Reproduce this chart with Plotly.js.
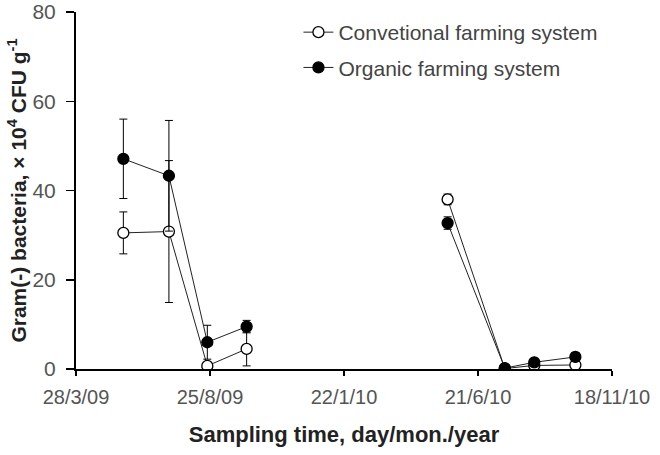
<!DOCTYPE html>
<html>
<head>
<meta charset="utf-8">
<script src="https://cdn.plot.ly/plotly-3.0.1.min.js"></script>
<style>html,body{margin:0;padding:0;background:#fff;}#chart{width:660px;height:455px;}</style>
</head>
<body>
<div id="chart"></div>
<script>
// Two sampling campaigns (2009 and 2010); the line is broken between them.
const sampleDates2009 = ['2009-05-20','2009-07-10','2009-08-22','2009-10-05'];
const sampleDates2010 = ['2010-05-18','2010-07-21','2010-08-23','2010-10-08'];
const convValues2009 = [30.5, 30.8, 0.7, 4.5];
const convValues2010 = [38.0, 0.1, 0.8, 0.9];
const convErrors2009 = [4.7, 15.9, 0.5, 3.8];
const convErrors2010 = [1.2, 0.2, 0.3, 0.4];
const orgValues2009 = [47.1, 43.3, 6.0, 9.5];
const orgValues2010 = [32.7, 0.2, 1.5, 2.7];
const orgErrors2009 = [8.9, 12.4, 3.8, 1.4];
const orgErrors2010 = [1.4, 0.3, 0.4, 1.0];
const seriesNames = ['Convetional farming system', 'Organic farming system'];
const tickStart = '2009-03-28';
const tickEnd = '2010-11-18';

// join the two campaigns with a null so the line breaks
function joinX(a, b){ return a.concat([a[a.length-1]], b); }
function joinY(a, b){ return a.concat([null], b); }

const errStyle = {type:'data', visible:true, color:'#000', thickness:1, width:4};
const traces = [
  {x: joinX(sampleDates2009, sampleDates2010), y: joinY(convValues2009, convValues2010),
   name: seriesNames[0], mode:'lines+markers', legendgroup:'a', connectgaps:false,
   line:{color:'#222', width:1},
   marker:{symbol:'circle', size:11, color:'#fff', line:{color:'#000', width:1.3}},
   error_y: Object.assign({array: joinY(convErrors2009, convErrors2010)}, errStyle)},
  {x: joinX(sampleDates2009, sampleDates2010), y: joinY(orgValues2009, orgValues2010),
   name: seriesNames[1], mode:'lines+markers', legendgroup:'b', connectgaps:false,
   line:{color:'#222', width:1},
   marker:{symbol:'circle', size:11, color:'#000', line:{color:'#000', width:1.3}},
   error_y: Object.assign({array: joinY(orgErrors2009, orgErrors2010)}, errStyle)}
];
const layout = {
  width:660, height:455,
  margin:{l:76, r:48, t:12, b:86},
  paper_bgcolor:'#fff', plot_bgcolor:'#fff',
  font:{family:'Liberation Sans, Arial, sans-serif', color:'#555'},
  showlegend:true,
  legend:{x:0.415, y:1.0, xanchor:'left', yanchor:'top', traceorder:'grouped', tracegroupgap:5,
          font:{size:21, color:'#444'}, bgcolor:'rgba(0,0,0,0)'},
  xaxis:{type:'date', range:[tickStart, tickEnd], tick0:tickStart, dtick:150*86400000,
         tickformat:'%-d/%-m/%y', ticks:'outside', ticklen:5, tickwidth:1.5, tickcolor:'#000',
         showline:true, linecolor:'#000', linewidth:2, showgrid:false, zeroline:false,
         ticklabelstandoff:4,
         tickfont:{size:20, color:'#555'},
         title:{text:'<b>Sampling time, day/mon./year</b>', font:{size:22, color:'#222'}, standoff:20}},
  yaxis:{range:[0,80], dtick:20, ticks:'outside', ticklen:8, tickwidth:1.5, tickcolor:'#000',
         showline:true, linecolor:'#000', linewidth:2, showgrid:false, zeroline:false,
         ticklabelstandoff:6,
         tickfont:{size:21, color:'#555'},
         title:{text:'<b>Gram(-) bacteria, × 10<sup>4</sup> CFU g<sup>-1</sup></b>', font:{size:21, color:'#222'}, standoff:0}}
};
Plotly.newPlot('chart', traces, layout, {displayModeBar:false, staticPlot:true});
</script>
</body>
</html>
